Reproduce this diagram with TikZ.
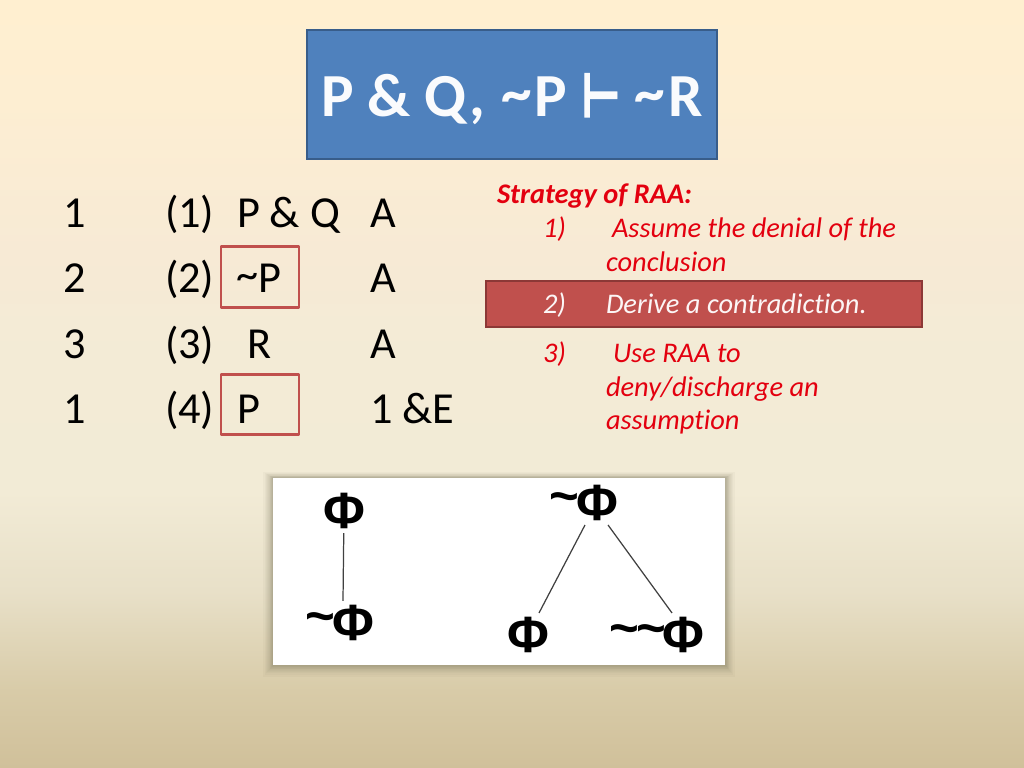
\documentclass[tikz,border=0pt]{standalone}
\usepackage{fontspec}
\setmainfont{Carlito}[Ligatures=NoCommon]
\newfontfamily\dejafont{DejaVu Sans}[BoldFeatures={FakeBold=2}]
\newfontfamily\arialfont{Liberation Sans}
\definecolor{titleblue}{HTML}{4F81BD}
\definecolor{titleedge}{HTML}{385D8A}
\definecolor{boxred}{HTML}{C0504D}
\definecolor{bandedge}{HTML}{8C3836}
\definecolor{listred}{HTML}{E3000F}
\definecolor{shadowtan}{HTML}{6E6A50}
\definecolor{bgtop}{HTML}{FFEFD0}
\definecolor{bgone}{HTML}{FDEED2}
\definecolor{bgtwo}{HTML}{F7EAD5}
\definecolor{bgthree}{HTML}{F3EBD6}
\definecolor{bgfour}{HTML}{F2EBD6}
\definecolor{bgfive}{HTML}{E8E0C8}
\definecolor{bgsix}{HTML}{D8CBA8}
\definecolor{bgbottom}{HTML}{D0C09A}
\pgfdeclareverticalshading{slidebg}{100bp}{%
  color(0bp)=(bgbottom);
  color(25bp)=(bgbottom);
  color(30bp)=(bgsix);
  color(36.5bp)=(bgfive);
  color(43bp)=(bgfour);
  color(52bp)=(bgthree);
  color(58.5bp)=(bgtwo);
  color(68.5bp)=(bgone);
  color(75bp)=(bgtop);
  color(100bp)=(bgtop)}
\newcommand{\tld}{\raisebox{0.7mm}{\textasciitilde}\kern-0.3mm}
\newcommand{\ttld}{\raisebox{0.3mm}{\textasciitilde}}
\tikzset{
  txt/.style={anchor=base west,inner sep=0pt,outer sep=0pt},
  proofline/.style={txt,font=\fontsize{12.6pt}{14pt}\selectfont,text=black},
  listline/.style={txt,font=\fontsize{8.08pt}{10pt}\selectfont\itshape,text=listred},
  redbox/.style={draw=boxred,line width=0.85pt,line join=round},
  phi/.style={inner sep=1pt,font=\fontsize{14.5pt}{16pt}\selectfont\arialfont\bfseries},
  treeline/.style={draw=black!75,line width=0.35pt}
}
\begin{document}
\begin{tikzpicture}[x=0.01cm,y=-0.01cm]
        %% Background
        \shade[shading=slidebg] (0,0) rectangle (1024,768);
        %% Title
        \node[draw=titleedge,line width=0.7pt,fill=titleblue,minimum width=4.1cm,minimum height=1.29cm,
              inner sep=0pt,text=white!97!titleblue,font=\fontsize{17.4pt}{20pt}\selectfont\bfseries] (title) at (512,94.5)
              {\raisebox{-2.25mm}[0pt][0pt]{P \& Q,\kern0.2mm{} \ttld\kern0.3mm P {\dejafont\bfseries\fontsize{14pt}{20pt}\selectfont\scalebox{0.88}[1.25]{⊢}} \ttld\kern0.3mm R}};
        %% Proof
        \foreach \y/\i/\n/\f/\a/\g in {228/1/1/P \& Q/A/237,293/2/2/\ttld P/A/236,359/3/3/R/A/247,424/4/1/P/1 \&E/237} {
            \node[proofline] (num\i) at (63,\y) {\n};
            \node[proofline] (lab\i) at (165,\y) {(\i)};
            \node[proofline] (form\i) at (\g,\y) {\f};
            \node[proofline] (rule\i) at (370,\y) {\a};
        }
        \draw[redbox] (221,247) rectangle (299,308);
        \draw[redbox] (221,375) rectangle (299,435);
        %% Strategy
        \draw[draw=bandedge,line width=0.6pt,fill=boxred] (486,281) rectangle (922,327);
        \node[listline,font=\fontsize{8.08pt}{10pt}\selectfont\itshape\bfseries] (head) at (497,204) {Strategy of RAA:};
        \node[listline] (one) at (543,238) {1)};
        \node[listline] (onea) at (612,238) {Assume the denial of the};
        \node[listline] (oneb) at (606,272) {conclusion};
        \node[listline,text=white!95!boxred] (two) at (543,314) {2)};
        \node[listline,text=white!95!boxred] (twoa) at (606,314) {Derive a contradiction.};
        \node[listline] (three) at (543,363) {3)};
        \node[listline] (threea) at (613,363) {Use RAA to};
        \node[listline] (threeb) at (606,397) {deny/discharge an};
        \node[listline] (threec) at (606,430) {assumption};
        %% Trees
        \foreach \g in {1,1.5,2,2.5,3,3.5,4,5,6,7,8,10} {
            \fill[shadowtan,opacity=0.045] (273-\g,478-0.6*\g) rectangle (725+\g,665+1.2*\g);
        }
        \fill[white] (273,478) rectangle (725,665);
        \node[phi] (phia) at (344,511) {Φ};
        \node[phi] (nphia) at (340,623) {\tld Φ};
        \node[phi] (nphib) at (584,503) {\tld Φ};
        \node[phi] (phib) at (528,635) {Φ};
        \node[phi] (nnphi) at (657,635) {\tld\tld Φ};
        \draw[treeline] (phia) -- ([xshift=0.3mm]nphia.north);
        \draw[treeline] ([xshift=0.1mm]nphib.south) -- ([xshift=1.1mm]phib.north);
        \draw[treeline] ([xshift=2.4mm]nphib.south) -- ([xshift=1.5mm]nnphi.north);
    \end{tikzpicture}
\end{document}
